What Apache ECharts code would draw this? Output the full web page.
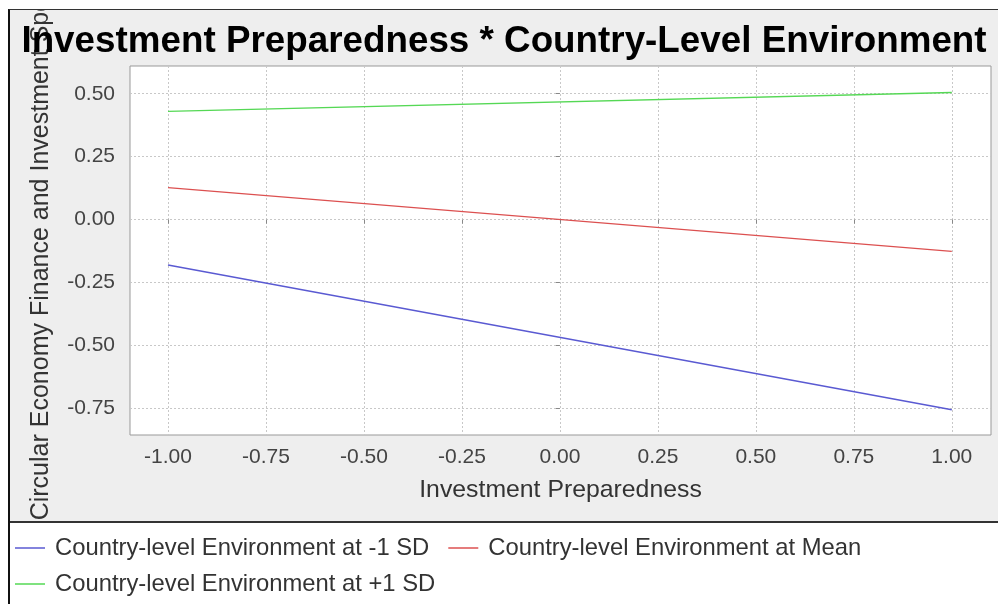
<!DOCTYPE html>
<html>
<head>
<meta charset="utf-8">
<script src="https://cdn.jsdelivr.net/npm/echarts@6/dist/echarts.min.js"></script>
<style>
  html, body { margin: 0; padding: 0; background: #fff; }
  #frame {
    position: absolute; left: 8px; top: 9px; width: 988px; height: 594px;
    border-left: 2px solid #111; border-top: 1px solid #333;
    background: linear-gradient(#eeeeee 0, #eeeeee 511px, #333 511px, #333 513px, #ffffff 513px);
    overflow: hidden;
  }
  #chart { width: 988px; height: 594px; }
</style>
</head>
<body>
<div id="frame"><div id="chart"></div></div>
<script>
// Simple slopes of the outcome across Investment Preparedness, one line per moderator level
const xValues = [-1.0, 1.0];
const lowSD  = [-0.18, -0.755];   // Country-level Environment at -1 SD
const atMean = [0.127, -0.126];   // Country-level Environment at Mean
const highSD = [0.43, 0.505];     // Country-level Environment at +1 SD

const seriesNames = [
  'Country-level Environment at -1 SD',
  'Country-level Environment at Mean',
  'Country-level Environment at +1 SD'
];
const xTicks = [-1.0, -0.75, -0.5, -0.25, 0.0, 0.25, 0.5, 0.75, 1.0];
const yTicks = [-0.75, -0.5, -0.25, 0.0, 0.25, 0.5];

const colors = ['#5a5ad2', '#dc5050', '#55d855'];
const font = 'Arial, "Liberation Sans", sans-serif';

function pairs(ys) { return xValues.map((x, i) => [x, ys[i]]); }

const chart = echarts.init(document.getElementById('chart'), null, { renderer: 'canvas' });

const gridLine = { show: true, lineStyle: { color: '#c8c8c8', type: [2, 2], width: 1 } };
const legendBase = {
  left: 5, padding: 0, itemGap: 19, itemWidth: 30, itemHeight: 1.5, icon: 'rect',
  textStyle: { fontFamily: font, fontSize: 23.8, color: '#333', padding: [0, 0, 0, 5] }
};

chart.setOption({
  animation: false,
  backgroundColor: 'transparent',
  title: {
    text: 'Investment Preparedness * Country-Level Environment',
    left: 'center', top: 8,
    textStyle: { fontFamily: font, fontSize: 36.8, fontWeight: 'bold', color: '#000' }
  },
  grid: {
    left: 120, right: 7, top: 56, bottom: 169,
    containLabel: false, outerBoundsMode: 'none',
    show: true, backgroundColor: '#ffffff', borderColor: '#999999', borderWidth: 1
  },
  legend: [
    Object.assign({ top: 526, data: seriesNames.slice(0, 2) }, legendBase),
    Object.assign({ top: 562, data: seriesNames.slice(2) }, legendBase)
  ],
  xAxis: {
    type: 'value', min: -1.097, max: 1.1,
    name: 'Investment Preparedness', nameLocation: 'middle', nameGap: 43,
    nameTextStyle: { fontFamily: font, fontSize: 24.8, color: '#333' },
    axisLine: { show: false },
    axisTick: { show: true, length: 4, inside: false, customValues: xTicks, lineStyle: { color: '#888' } },
    axisLabel: { customValues: xTicks, margin: 12, fontFamily: font, fontSize: 21, color: '#444',
      formatter: v => v.toFixed(2) },
    splitLine: gridLine
  },
  yAxis: {
    type: 'value', min: -0.855, max: 0.61,
    name: 'Circular Economy Finance and Investment Spending', nameLocation: 'middle', nameGap: 76,
    nameTextStyle: { fontFamily: font, fontSize: 25, color: '#333', padding: [0, 0, 0, 44] },
    axisLine: { show: false },
    axisTick: { show: true, length: 4, inside: false, customValues: yTicks, lineStyle: { color: '#888' } },
    axisLabel: { customValues: yTicks, margin: 15, fontFamily: font, fontSize: 21, color: '#444',
      formatter: v => v.toFixed(2) },
    splitLine: gridLine
  },
  series: [lowSD, atMean, highSD].map((ys, i) => ({
    name: seriesNames[i], type: 'line', data: pairs(ys),
    symbol: 'none', color: colors[i], lineStyle: { width: 1.4, color: colors[i] }
  }))
});
</script>
</body>
</html>
